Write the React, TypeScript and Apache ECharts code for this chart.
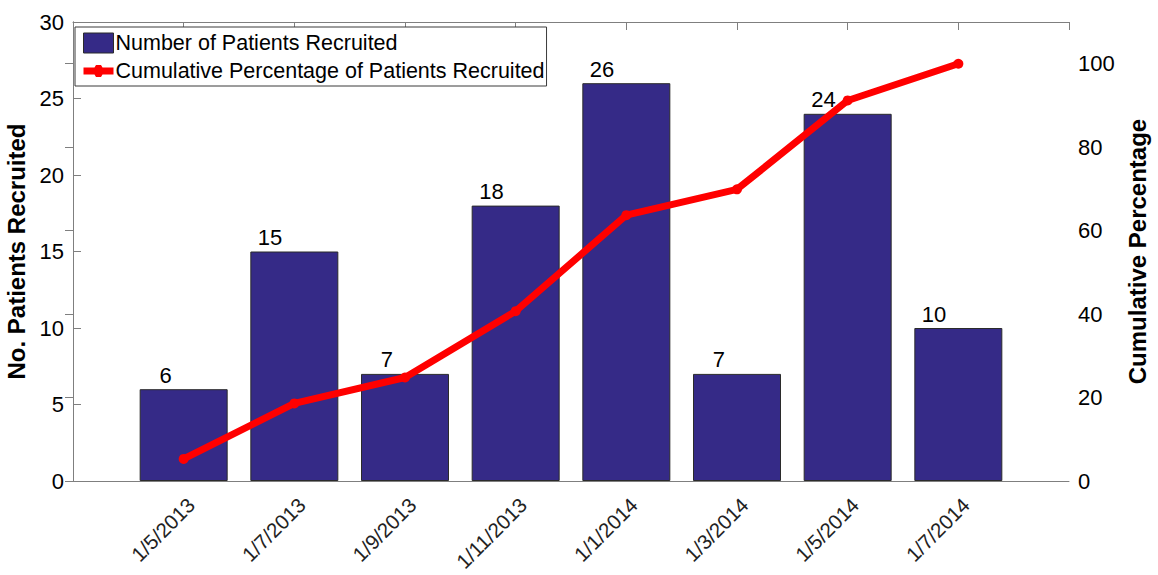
import React, { useEffect, useRef } from "react";
import * as echarts from "echarts";

const categories = ["1/5/2013", "1/7/2013", "1/9/2013", "1/11/2013", "1/1/2014", "1/3/2014", "1/5/2014", "1/7/2014"];
const patients = [6, 15, 7, 18, 26, 7, 24, 10];
const cumulativePct = [5.3, 18.6, 24.8, 40.7, 63.7, 69.9, 91.2, 100];
const leftTicks = [0, 5, 10, 15, 20, 25, 30];
const rightTicks = [0, 20, 40, 60, 80, 100];

const FONT = "Liberation Sans, Arial, Helvetica, sans-serif";
const AXIS_GRAY = "#7f7f7f";
const LINE_ICON = "path://M0,6.5 L11,6.5 L12.5,4 L17.5,4 L19,6.5 L30,6.5 L30,13.5 L19,13.5 L17.5,16 L12.5,16 L11,13.5 L0,13.5 Z";

export default function App() {
  const ref = useRef<HTMLDivElement>(null);
  useEffect(() => {
    const chart = echarts.init(ref.current!, null, { renderer: "svg" });
    const xLabel = (v: number) => {
      const r = Math.round(v);
      const i = r - 1;
      return i >= 0 && i < categories.length && Math.abs(v - r) < 1e-6 ? categories[i] : "";
    };
    const option: any = {
      animation: false,
      backgroundColor: "#ffffff",
      textStyle: { fontFamily: FONT },
      grid: { left: 73, right: 89, top: 22, bottom: 94, containLabel: false, outerBoundsMode: "none" },
      legend: {
        orient: "vertical",
        left: 75,
        top: 27,
        padding: [5, 2, 4, 8],
        itemGap: 6,
        itemWidth: 30,
        itemHeight: 20,
        borderColor: "#3a3a3a",
        borderWidth: 1,
        backgroundColor: "#ffffff",
        textStyle: { fontFamily: FONT, fontSize: 21.5, lineHeight: 22, color: "#000", padding: [0, 0, 0, -3] },
        data: [
          { name: "Number of Patients Recruited", icon: "rect", itemStyle: { borderColor: "#2b2b2b", borderWidth: 1 } },
          { name: "Cumulative Percentage of Patients Recruited", icon: LINE_ICON, itemStyle: { color: "#ff0000", borderWidth: 0 } },
        ],
      },
      xAxis: [
        {
          type: "value",
          min: 0,
          max: 9,
          interval: 1,
          position: "bottom",
          axisLine: { show: true, onZero: false, lineStyle: { color: AXIS_GRAY, width: 1 } },
          axisTick: { show: true, inside: true, length: 8, lineStyle: { color: AXIS_GRAY } },
          splitLine: { show: false },
          axisLabel: {
            rotate: 45,
            margin: 13,
            fontSize: 20.5,
            color: "#222",
            fontFamily: FONT,
            verticalAlign: "top",
            showMinLabel: false,
            showMaxLabel: false,
            formatter: xLabel,
          },
        },
        {
          type: "value",
          min: 0,
          max: 9,
          interval: 1,
          position: "top",
          axisLine: { show: true, onZero: false, lineStyle: { color: AXIS_GRAY, width: 1 } },
          axisTick: { show: true, inside: true, length: 8, lineStyle: { color: AXIS_GRAY } },
          splitLine: { show: false },
          axisLabel: { show: false },
        },
      ],
      yAxis: [
        {
          type: "value",
          min: leftTicks[0],
          max: leftTicks[leftTicks.length - 1],
          interval: 5,
          position: "left",
          name: "No. Patients Recruited",
          nameLocation: "middle",
          nameGap: 44,
          nameTextStyle: { fontFamily: FONT, fontSize: 24, fontWeight: "bold", color: "#000" },
          axisLine: { show: true, lineStyle: { color: AXIS_GRAY, width: 1 } },
          axisTick: { show: true, inside: true, length: 8, lineStyle: { color: AXIS_GRAY } },
          splitLine: { show: false },
          axisLabel: { fontSize: 22, color: "#000", fontFamily: FONT, margin: 9 },
        },
        {
          type: "value",
          min: rightTicks[0],
          max: 110,
          interval: 20,
          position: "right",
          name: "Cumulative Percentage",
          nameLocation: "middle",
          nameGap: 56,
          nameTextStyle: { fontFamily: FONT, fontSize: 24, fontWeight: "bold", color: "#000" },
          axisLine: { show: true, lineStyle: { color: AXIS_GRAY, width: 1 } },
          axisTick: { show: true, inside: true, length: 8, lineStyle: { color: AXIS_GRAY } },
          splitLine: { show: false },
          axisLabel: {
            fontSize: 22,
            color: "#000",
            fontFamily: FONT,
            margin: 9,
            showMaxLabel: false,
            formatter: (v: number) => (rightTicks.indexOf(v) >= 0 ? String(v) : ""),
          },
        },
      ],
      series: [
        {
          name: "Number of Patients Recruited",
          type: "bar",
          xAxisIndex: 0,
          yAxisIndex: 0,
          barWidth: 88,
          data: patients.map((v, i) => [i + 1, v]),
          itemStyle: { color: "#352A87", borderColor: "#2b2b2b", borderWidth: 1 },
          label: {
            show: true,
            position: "top",
            distance: 3,
            align: "right",
            offset: [-12, 0],
            fontSize: 22,
            color: "#000",
            fontFamily: FONT,
            formatter: (p: any) => String(p.value[1]),
          },
        },
        {
          name: "Cumulative Percentage of Patients Recruited",
          type: "line",
          xAxisIndex: 0,
          yAxisIndex: 1,
          data: cumulativePct.map((v, i) => [i + 1, v]),
          symbol: "circle",
          symbolSize: 10,
          lineStyle: { color: "#ff0000", width: 7 },
          itemStyle: { color: "#ff0000" },
          z: 5,
        },
      ],
    };
    chart.setOption(option);
    return () => chart.dispose();
  }, []);
  return (
    <div
      ref={ref}
      style={{ position: "absolute", left: 0, top: 0, width: 1158, height: 575 }}
    />
  );
}
